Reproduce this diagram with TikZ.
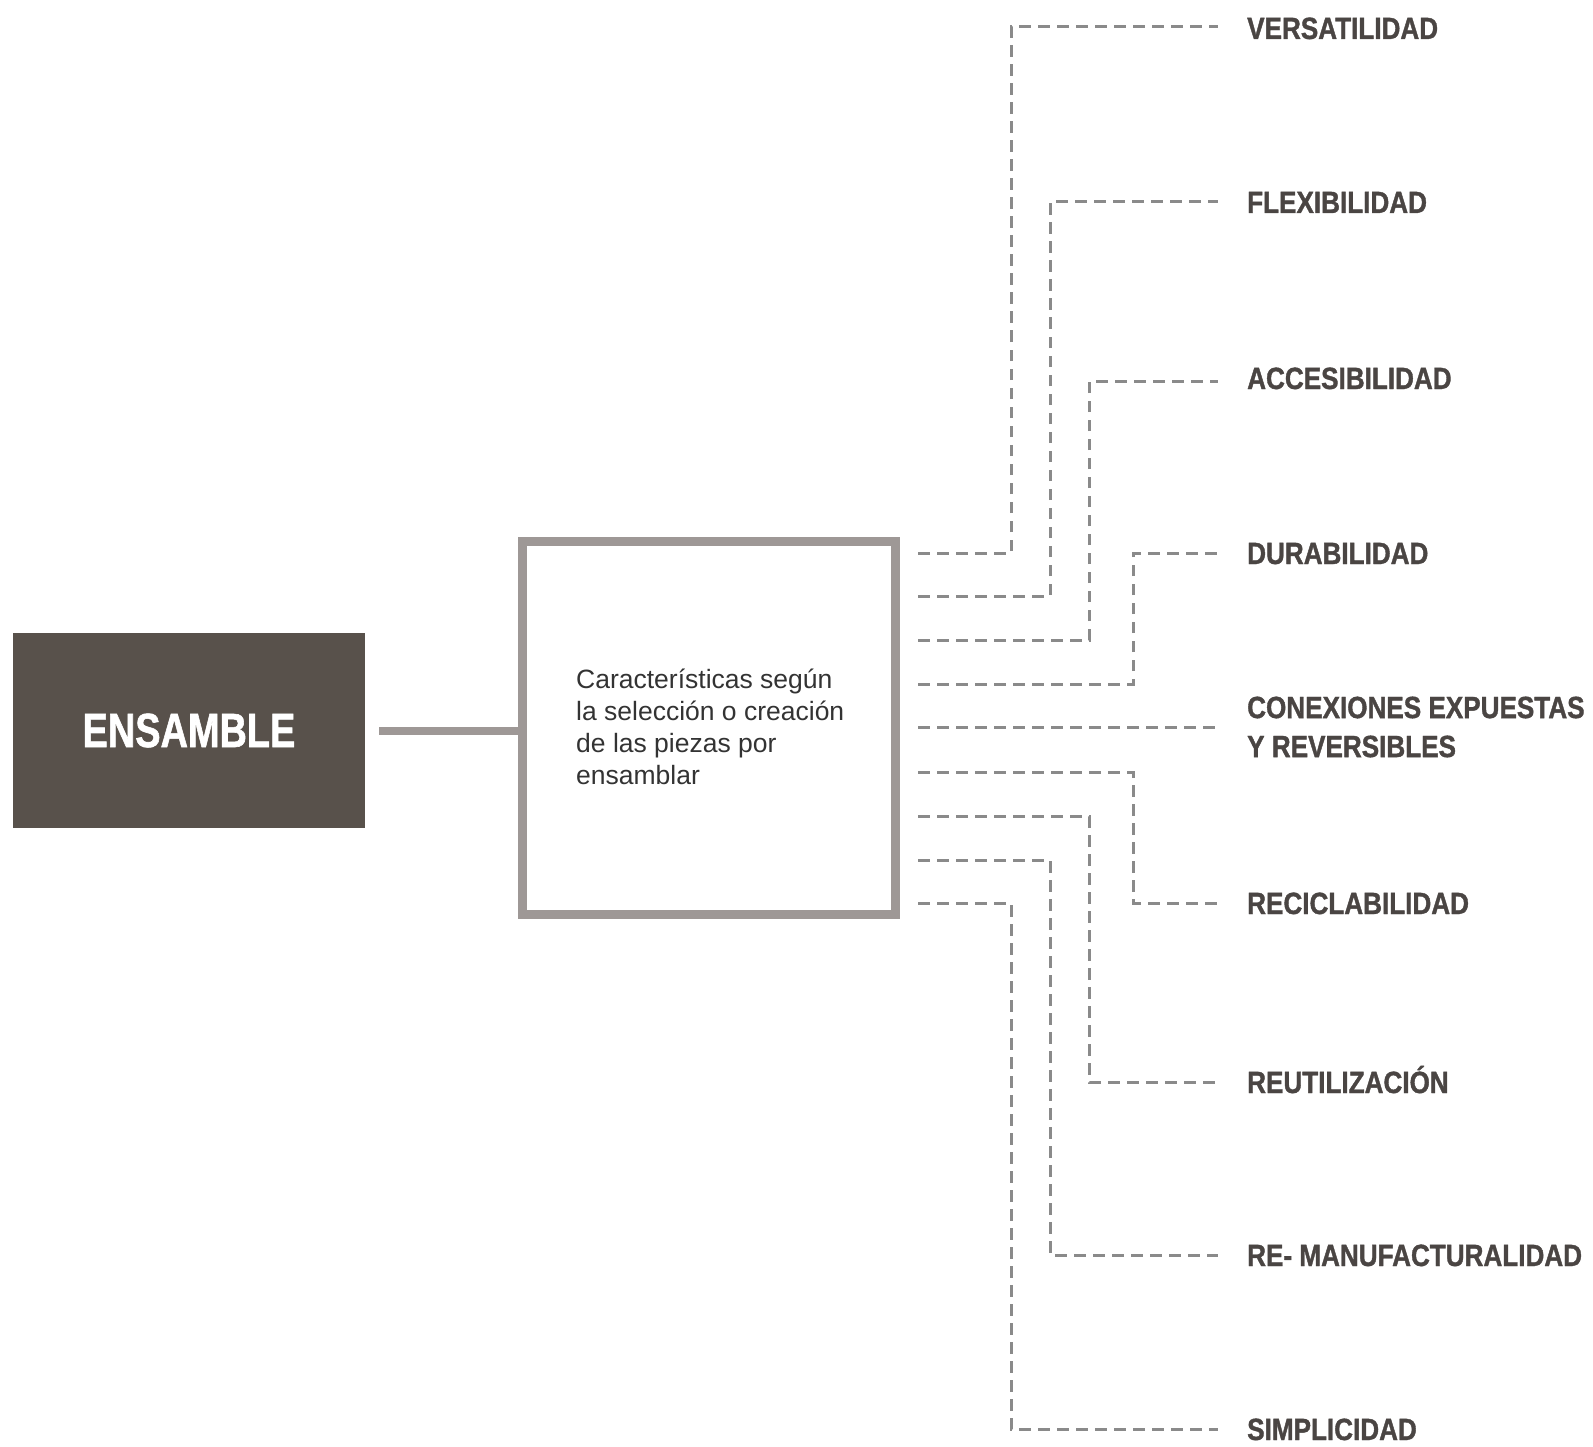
\documentclass[tikz,border=0pt]{standalone}
\usepackage{fontspec}
\setmainfont{Liberation Sans}
\newfontfamily\condfont[FakeStretch=0.85, FakeBold=1.2]{Liberation Sans}
\newfontfamily\enscondfont[FakeStretch=0.79, FakeBold=1.2]{Liberation Sans}
\usetikzlibrary{calc}
\definecolor{darkbox}{HTML}{58514B}
\definecolor{boxgray}{HTML}{9E9896}
\definecolor{dashgray}{HTML}{8A8A8A}
\definecolor{labelgray}{HTML}{4A4543}
\definecolor{textgray}{HTML}{333333}
\tikzset{
  dl/.style={draw=dashgray, line width=3pt, dash pattern=on 11.5pt off 7.5pt},
  lbl/.style={anchor=base west, inner sep=0pt, text=labelgray, font=\condfont\bfseries\fontsize{30.7}{36}\selectfont, align=left},
}
\begin{document}
\begin{tikzpicture}[x=1pt,y=-1pt]
\useasboundingbox (0,0) rectangle (1593,1447);
% main boxes
\node[fill=darkbox, minimum width=352pt, minimum height=195pt, inner sep=0pt,
      text=white, font=\enscondfont\bfseries\fontsize{48}{50}\selectfont] (ens) at (189,730.5) {ENSAMBLE};
\node[draw=boxgray, line width=9pt, minimum width=373pt, minimum height=373pt, inner sep=0pt] (sq) at (709,728) {};
\node[anchor=base west, inner sep=0pt, align=left, text=textgray,
      font=\fontsize{26.5}{31.7}\selectfont] (txt) at (576,784)
  {Características según\\la selección o creación\\de las piezas por\\ensamblar};
\draw[draw=boxgray, line width=8pt, shorten <=14pt] (ens.east) -- (ens.east -| sq.west);

% labels
\node[lbl] (l1) at (1247,39) {VERSATILIDAD};
\node[lbl] (l2) at (1247,213) {FLEXIBILIDAD};
\node[lbl] (l3) at (1247,389) {ACCESIBILIDAD};
\node[lbl] (l4) at (1247,564) {DURABILIDAD};
\node[anchor=west, inner sep=0pt, text=labelgray, font=\condfont\bfseries\fontsize{30.7}{39}\selectfont, align=left] (l5) at (1247,727) {CONEXIONES EXPUESTAS\\Y REVERSIBLES};
\node[lbl] (l6) at (1247,914) {RECICLABILIDAD};
\node[lbl] (l7) at (1247,1093) {REUTILIZACIÓN};
\node[lbl] (l8) at (1247,1266) {RE- MANUFACTURALIDAD};
\node[lbl] (l9) at (1247,1440) {SIMPLICIDAD};

% connector coordinates
\coordinate (s1) at (918,553);
\coordinate (s2) at (918,596);
\coordinate (s3) at (918,640);
\coordinate (s4) at (918,684);
\coordinate (s5) at (918,727);
\coordinate (s6) at (918,772);
\coordinate (s7) at (918,816);
\coordinate (s8) at (918,860);
\coordinate (s9) at (918,903);

\coordinate (e1) at (1218,27);
\coordinate (e2) at (1218,202);
\coordinate (e3) at (1218,381);
\coordinate (e4) at (1218,553);
\coordinate (e5) at (1218,727);
\coordinate (e6) at (1218,903);
\coordinate (e7) at (1218,1082);
\coordinate (e8) at (1218,1255);
\coordinate (e9) at (1218,1429);

\coordinate (xa) at (1011,0);
\coordinate (xb) at (1050,0);
\coordinate (xc) at (1089,0);
\coordinate (xd) at (1133,0);

\draw[dl] (s1) -| (xa |- e1) -- (e1);
\draw[dl] (s2) -| (xb |- e2) -- (e2);
\draw[dl] (s3) -| (xc |- e3) -- (e3);
\draw[dl] (s4) -| (xd |- e4) -- (e4);
\draw[dl] (s5) -- (e5);
\draw[dl] (s6) -| (xd |- e6) -- (e6);
\draw[dl] (s7) -| (xc |- e7) -- (e7);
\draw[dl] (s8) -| (xb |- e8) -- (e8);
\draw[dl] (s9) -| (xa |- e9) -- (e9);
\end{tikzpicture}
\end{document}
